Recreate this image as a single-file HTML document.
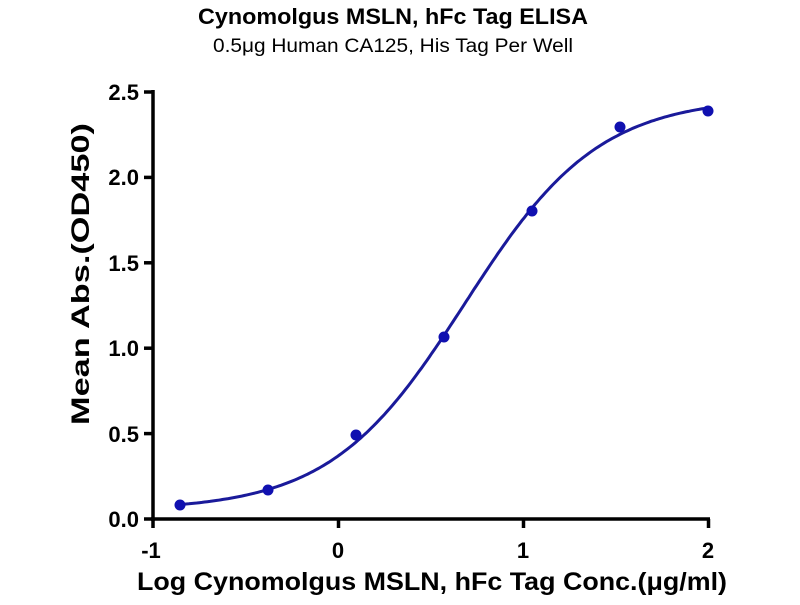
<!DOCTYPE html>
<html><head><meta charset="utf-8"><style>
body{margin:0;background:#fff;width:800px;height:600px;overflow:hidden}
text{font-family:"Liberation Sans",Arial,sans-serif}
</style></head><body>
<svg id="s" width="800" height="600" xmlns="http://www.w3.org/2000/svg">
<text x="198" y="24" font-size="22" font-weight="bold" textLength="390" lengthAdjust="spacingAndGlyphs">Cynomolgus MSLN, hFc Tag ELISA</text>
<text x="213" y="52" font-size="19" textLength="360" lengthAdjust="spacingAndGlyphs">0.5μg Human CA125, His Tag Per Well</text>
<g stroke="#000" stroke-width="3.5" fill="none">
<line x1="153" y1="90" x2="153" y2="521"/>
<line x1="151" y1="519" x2="710" y2="519"/>
<line x1="144" y1="92" x2="153" y2="92"/>
<line x1="144" y1="177.4" x2="153" y2="177.4"/>
<line x1="144" y1="262.8" x2="153" y2="262.8"/>
<line x1="144" y1="348.2" x2="153" y2="348.2"/>
<line x1="144" y1="433.6" x2="153" y2="433.6"/>
<line x1="144" y1="519" x2="153" y2="519"/>
<line x1="153" y1="519" x2="153" y2="528"/>
<line x1="338.5" y1="519" x2="338.5" y2="528"/>
<line x1="523.5" y1="519" x2="523.5" y2="528"/>
<line x1="708.5" y1="519" x2="708.5" y2="528"/>
</g>
<g font-size="22" font-weight="bold" text-anchor="end">
<text x="139" y="100">2.5</text><text x="139" y="185">2.0</text><text x="139" y="271">1.5</text>
<text x="139" y="356">1.0</text><text x="139" y="442">0.5</text><text x="139" y="527">0.0</text>
</g>
<g font-size="22" font-weight="bold" text-anchor="middle">
<text x="151" y="558">-1</text><text x="338" y="558">0</text><text x="523" y="558">1</text><text x="708" y="558">2</text>
</g>
<text x="137" y="590" font-size="25" font-weight="bold" textLength="590" lengthAdjust="spacingAndGlyphs">Log Cynomolgus MSLN, hFc Tag Conc.(μg/ml)</text>
<text transform="translate(89,425) rotate(-90)" font-size="25" font-weight="bold" textLength="302" lengthAdjust="spacingAndGlyphs">Mean Abs.(OD450)</text>
<path id="c" fill="none" stroke="#1a1a9a" stroke-width="3"/>
<g fill="#1010b0">
<circle cx="180" cy="505" r="5.5"/><circle cx="268" cy="490" r="5.5"/><circle cx="356" cy="435" r="5.5"/>
<circle cx="444" cy="337" r="5.5"/><circle cx="532" cy="211" r="5.5"/><circle cx="620" cy="127" r="5.5"/>
<circle cx="708" cy="111" r="5.5"/>
</g>
</svg>
<script>
var d="";for(var i=0;i<=200;i++){var x=-0.85+i*2.85/200;var y=0.05+2.42/(1+Math.pow(10,1.2*(0.68-x)));
var px=153+(x+1)*185.5,py=519-y*170.8;d+=(i?"L":"M")+px.toFixed(1)+","+py.toFixed(1);}
document.getElementById("c").setAttribute("d",d);
</script>
</body></html>
